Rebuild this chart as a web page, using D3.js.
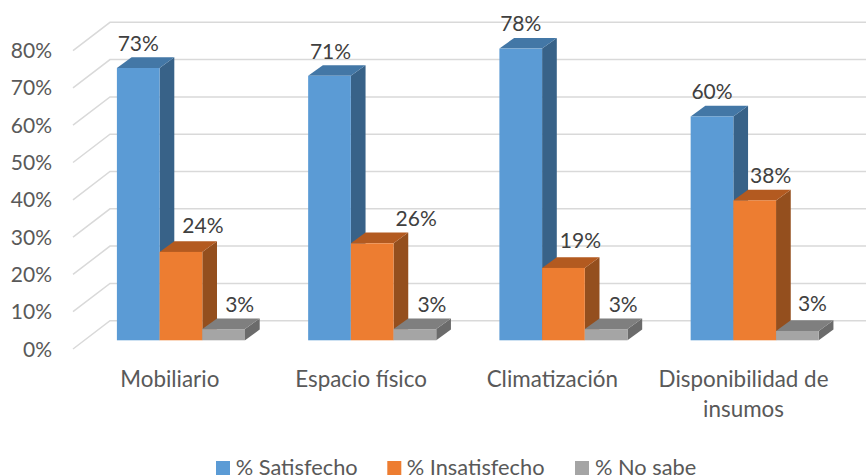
<!DOCTYPE html>
<html><head><meta charset="utf-8">
<style>html,body{margin:0;padding:0;background:#fff}svg{display:block}text{font-family:Lato,"Open Sans",sans-serif}</style>
<script src="https://cdn.jsdelivr.net/npm/d3@7"></script></head>
<body><script>
const categories = [["Mobiliario"],["Espacio físico"],["Climatización"],["Disponibilidad de","insumos"]];
const seriesNames = ["% Satisfecho","% Insatisfecho","% No sabe"];
const satisfecho = [73,70.9,78.2,60];
const insatisfecho = [23.7,26,19.4,37.5];
const noSabe = [3,3,3,2.5];
const ticks = [0,10,20,30,40,50,60,70,80];
const front = ["#5b9bd5","#ed7d31","#a5a5a5"];
const topC = ["#4377a6","#b35a20","#7f7f7f"];
const side = ["#386288","#944f1e","#6b6b6b"];
const series = [satisfecho,insatisfecho,noSabe];

// data-label nudges from the bar centre / bar top (layout only)
const labelDX = [[0,22,16],[1,44,17],[0,17,17],[0,16,15]];
const labelDY = [[17.3,18.7,17.3],[17.3,17.5,17.3],[17.3,20,17.3],[17.3,17.7,20]];

const W=866,H=475;
const svg=d3.select("body").append("svg").attr("width",W).attr("height",H);
const y=d3.scaleLinear().domain([0,80]).range([340.3,41.9]);
const x=d3.scaleBand().domain(d3.range(4)).range([69.5,834.5]).padding(0);
const bw=42.7, dx=14.7, dy=10.7;
const barX=(g,s)=>x(g)+47.4+s*bw;

const floorFront=v=>y(v)+8.7, floorBack=v=>y(v)-19.6;
const grid=svg.append("g").attr("fill","none").attr("stroke","#d9d9d9").attr("stroke-width",1.5);
ticks.forEach(t=>{
  grid.append("path").attr("d",d3.line()([[73,floorFront(t)],[110,floorBack(t)],[866,floorBack(t)]]));
});
svg.append("g").selectAll("text").data(ticks).join("text")
  .attr("x",52).attr("y",t=>floorFront(t)+7.5).attr("text-anchor","end")
  .attr("font-size",21).attr("fill","#595959").text(t=>t+"%");

const line=d3.line();
categories.forEach((c,g)=>{
  series.forEach((vals,s)=>{
    const x0=barX(g,s),x1=x0+bw,y0=y(0),yt=y(vals[g]);
    const b=svg.append("g");
    b.append("path").attr("fill",side[s]).attr("d",line([[x1,yt],[x1+dx,yt-dy],[x1+dx,y0-dy],[x1,y0]])+"Z");
    b.append("path").attr("fill",topC[s]).attr("d",line([[x0,yt],[x0+dx,yt-dy],[x1+dx,yt-dy],[x1,yt]])+"Z");
    b.append("rect").attr("x",x0).attr("y",yt).attr("width",bw).attr("height",y0-yt).attr("fill",front[s]);
  });
});
categories.forEach((c,g)=>{
  series.forEach((vals,s)=>{
    svg.append("text").attr("x",barX(g,s)+bw/2+labelDX[g][s]).attr("y",y(vals[g])-labelDY[g][s])
      .attr("text-anchor","middle").attr("font-size",21).attr("fill","#404040").text(Math.round(vals[g])+"%");
  });
});
categories.forEach((c,g)=>{
  const t=svg.append("text").attr("text-anchor","middle").attr("font-size",22.4).attr("fill","#595959");
  c.forEach((l,i)=>t.append("tspan").attr("x",x(g)+100.3).attr("y",387.3+i*29.5).text(l));
});
const lx=[216,387.3,575], tx=[235.7,406.7,595];
seriesNames.forEach((n,i)=>{
  svg.append("rect").attr("x",lx[i]).attr("y",461).attr("width",14).attr("height",14).attr("fill",front[i]);
  svg.append("text").attr("x",tx[i]).attr("y",474.5).attr("font-size",21.8).attr("fill","#595959").text(n);
});
</script></body></html>
